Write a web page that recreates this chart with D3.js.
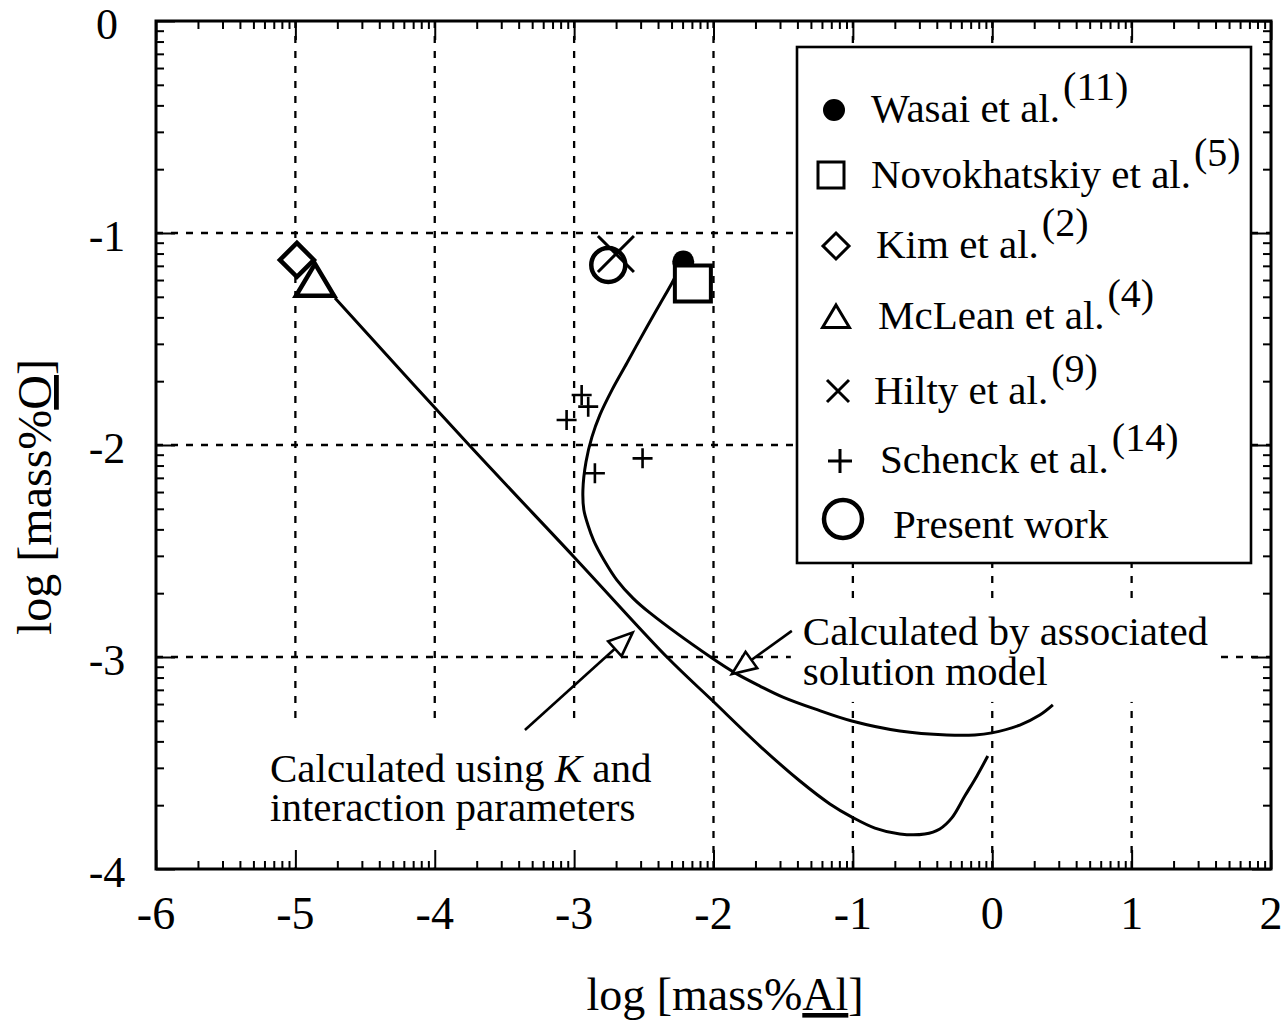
<!DOCTYPE html>
<html>
<head>
<meta charset="utf-8">
<script src="https://cdn.jsdelivr.net/npm/d3@7"></script>
<style>
  html, body { margin: 0; padding: 0; background: #fff; }
  svg { display: block; font-family: "Liberation Serif", "Times New Roman", Times, serif; }
</style>
</head>
<body>
<svg id="chart" width="1288" height="1022"></svg>
<script>
// ---- data: log[mass%Al] vs log[mass%O] ----
const wasai        = [[-2.217, -1.135]];
const novokhatskiy = [[-2.148, -1.238]];
const kim          = [[-4.989, -1.127]];
const mclean       = [[-4.859, -1.226]];
const hilty        = [[-2.700, -1.099]];
const schenck      = [[-2.946, -1.764], [-2.899, -1.819], [-3.054, -1.882], [-2.851, -2.133], [-2.509, -2.063]];
const presentWork  = [[-2.755, -1.151]];

// calculated using K and interaction parameters
const curveInteraction = [
  [-4.716, -1.307], [-3.747, -2.005], [-3.001, -2.528], [-2.327, -3.005],
  [-2.012, -3.203], [-1.667, -3.420], [-1.380, -3.585], [-1.165, -3.693],
  [-1.007, -3.755], [-0.842, -3.807], [-0.663, -3.835], [-0.484, -3.835],
  [-0.376, -3.811], [-0.290, -3.759], [-0.197, -3.656], [-0.110, -3.561],
  [-0.032, -3.467]
];
// calculated by associated solution model
const curveAssociated = [
  [-2.220, -1.137], [-2.298, -1.236], [-2.384, -1.335], [-2.478, -1.443],
  [-2.621, -1.613], [-2.729, -1.741], [-2.815, -1.858], [-2.872, -1.962],
  [-2.915, -2.080], [-2.937, -2.212], [-2.930, -2.307], [-2.901, -2.377],
  [-2.858, -2.453], [-2.786, -2.542], [-2.693, -2.637], [-2.578, -2.722],
  [-2.456, -2.792], [-2.011, -3.005],
  [-1.846, -3.075], [-1.667, -3.137], [-1.502, -3.189], [-1.273, -3.245],
  [-1.007, -3.302], [-0.663, -3.349], [-0.326, -3.368], [-0.125, -3.368],
  [-0.003, -3.358], [0.198, -3.321], [0.341, -3.274], [0.435, -3.226]
];

const xTicks = [-6, -5, -4, -3, -2, -1, 0, 1, 2];
const xTickLabels = ["-6", "-5", "-4", "-3", "-2", "-1", "0", "1", "2"];
const yTicks = [0, -1, -2, -3, -4];
const yTickLabels = ["0", "-1", "-2", "-3", "-4"];
const xGrid = [-5, -4, -3, -2, -1, 0, 1];
const yGrid = [-1, -2, -3];

const legendLabels = ["Wasai et al.", "Novokhatskiy et al.", "Kim et al.", "McLean et al.", "Hilty et al.", "Schenck et al.", "Present work"];
const legendRefs   = ["(11)", "(5)", "(2)", "(4)", "(9)", "(14)", ""];
const legendKinds  = ["dot", "square", "diamond", "triangle", "cross", "plus", "ring"];

const noteAssociated  = { at: [-1.359, -2.943], lines: ["Calculated by associated", "solution model"] };
const noteInteraction = { at: [-5.182, -3.590] };
const arrowAssociated  = { from: [-1.438, -2.877], to: [-1.868, -3.080] };
const arrowInteraction = { from: [-3.353, -3.344], to: [-2.580, -2.885] };

// ---- layout ----
const svg = d3.select("#chart");
const pL = 156, pR = 1271, pT = 21, pB = 869;
const x = d3.scaleLinear().domain([-6, 2]).range([pL, pR]);
const y = d3.scaleLinear().domain([0, -4]).range([pT, pB]);

const gGrid   = svg.append("g");
const gClear  = svg.append("g");
const gCurves = svg.append("g");
const gMarks  = svg.append("g");
const gFrame  = svg.append("g");
const gText   = svg.append("g");

// dashed grid
gGrid.selectAll("line.v").data(xGrid).join("line")
  .attr("x1", d => x(d)).attr("x2", d => x(d))
  .attr("y1", pT).attr("y2", pB)
  .attr("stroke", "#000").attr("stroke-width", 2.3).attr("stroke-dasharray", "7,8");
gGrid.selectAll("line.h").data(yGrid).join("line")
  .attr("y1", d => y(d)).attr("y2", d => y(d))
  .attr("x1", pL).attr("x2", pR)
  .attr("stroke", "#000").attr("stroke-width", 2.3).attr("stroke-dasharray", "7,8");

// curves
const line = d3.line().x(d => x(d[0])).y(d => y(d[1])).curve(d3.curveCatmullRom.alpha(0.5));
gCurves.append("path").attr("d", line(curveInteraction))
  .attr("fill", "none").attr("stroke", "#000").attr("stroke-width", 3).attr("stroke-linejoin", "round");
gCurves.append("path").attr("d", line(curveAssociated))
  .attr("fill", "none").attr("stroke", "#000").attr("stroke-width", 3).attr("stroke-linejoin", "round");

// symbol paths
function symbolPath(kind, s) {
  switch (kind) {
    case "square":   return `M${-s},${-s}H${s}V${s}H${-s}Z`;
    case "diamond":  return `M0,${-s}L${s},0L0,${s}L${-s},0Z`;
    case "triangle": return `M0,${-s * 1.0}L${s * 1.12},${s * 0.88}L${-s * 1.12},${s * 0.88}Z`;
    case "cross":    return `M${-s},${-s}L${s},${s}M${s},${-s}L${-s},${s}`;
    case "plus":     return `M${-s},0H${s}M0,${-s}V${s}`;
  }
}
function drawMark(g, kind, cx, cy, size, sw) {
  if (kind === "dot") {
    g.append("circle").attr("cx", cx).attr("cy", cy).attr("r", size).attr("fill", "#000");
  } else if (kind === "ring") {
    g.append("circle").attr("cx", cx).attr("cy", cy).attr("r", size)
      .attr("fill", "none").attr("stroke", "#000").attr("stroke-width", sw);
  } else {
    const filled = (kind === "square" || kind === "diamond" || kind === "triangle");
    g.append("path").attr("transform", `translate(${cx},${cy})`).attr("d", symbolPath(kind, size))
      .attr("fill", filled ? "#fff" : "none").attr("stroke", "#000").attr("stroke-width", sw)
      .attr("stroke-linejoin", "miter").attr("stroke-linecap", "butt");
  }
}

// data markers
wasai.forEach(d => drawMark(gMarks, "dot", x(d[0]), y(d[1]), 11));
novokhatskiy.forEach(d => drawMark(gMarks, "square", x(d[0]), y(d[1]), 18, 4));
kim.forEach(d => drawMark(gMarks, "diamond", x(d[0]), y(d[1]), 17, 4.5));
mclean.forEach(d => drawMark(gMarks, "triangle", x(d[0]), y(d[1]), 17, 4.5));
hilty.forEach(d => drawMark(gMarks, "cross", x(d[0]), y(d[1]), 18, 3));
presentWork.forEach(d => drawMark(gMarks, "ring", x(d[0]), y(d[1]), 17, 4.5));
schenck.forEach(d => drawMark(gMarks, "plus", x(d[0]), y(d[1]), 10, 2.6));

// frame and inward ticks on all four sides
const xMinor = [], yMinor = [];
for (let n = -6; n < 2; n++) for (let k = 2; k <= 9; k++) xMinor.push(n + Math.log10(k));
for (let n = -4; n < 0; n++) for (let k = 2; k <= 9; k++) yMinor.push(n + Math.log10(k));
const major = 19, minor = 8;
function addAxis(axis, tx, ty) {
  const g = gFrame.append("g").attr("transform", `translate(${tx},${ty})`).call(axis);
  g.select(".domain").remove();
  g.selectAll("text").remove();
  g.selectAll(".tick line").attr("stroke", "#000").attr("stroke-width", 2);
}
addAxis(d3.axisBottom(x).tickValues(xTicks).tickSize(-major), 0, pB);
addAxis(d3.axisBottom(x).tickValues(xMinor).tickSize(-minor), 0, pB);
addAxis(d3.axisTop(x).tickValues(xTicks).tickSize(-major), 0, pT);
addAxis(d3.axisTop(x).tickValues(xMinor).tickSize(-minor), 0, pT);
addAxis(d3.axisLeft(y).tickValues(yTicks).tickSize(-major), pL, 0);
addAxis(d3.axisLeft(y).tickValues(yMinor).tickSize(-minor), pL, 0);
addAxis(d3.axisRight(y).tickValues(yTicks).tickSize(-major), pR, 0);
addAxis(d3.axisRight(y).tickValues(yMinor).tickSize(-minor), pR, 0);
gFrame.append("rect").attr("x", pL).attr("y", pT)
  .attr("width", pR - pL).attr("height", pB - pT)
  .attr("fill", "none").attr("stroke", "#000").attr("stroke-width", 3);

// tick labels
gText.selectAll("text.xt").data(xTicks).join("text")
  .attr("x", d => x(d)).attr("y", 929).attr("text-anchor", "middle")
  .attr("font-size", 46).text((d, i) => xTickLabels[i]);
gText.selectAll("text.yt").data(yTicks).join("text")
  .attr("x", 107).attr("y", d => y(d) + 18).attr("text-anchor", "middle")
  .attr("font-size", 44).text((d, i) => yTickLabels[i]);

// axis titles
const xt = gText.append("text").attr("x", 725).attr("y", 1010).attr("text-anchor", "middle").attr("font-size", 46);
xt.append("tspan").text("log [mass%");
xt.append("tspan").style("text-decoration", "underline").text("Al");
xt.append("tspan").text("]");
const yt = gText.append("text").attr("transform", "translate(51,497) rotate(-90)").attr("text-anchor", "middle").attr("font-size", 48);
yt.append("tspan").text("log [mass%");
yt.append("tspan").style("text-decoration", "underline").text("O");
yt.append("tspan").text("]");

// annotations with white backing
function backing(node, padL, padT, padR, padB, toBottom) {
  const bb = node.getBBox();
  const y0 = bb.y - padT;
  const y1 = toBottom ? pB - 1.5 : bb.y + bb.height + padB;
  gClear.append("rect").attr("x", bb.x - padL).attr("y", y0)
    .attr("width", bb.width + padL + padR).attr("height", y1 - y0).attr("fill", "#fff");
}
const na = gText.append("g");
noteAssociated.lines.forEach((t, i) => {
  na.append("text").attr("x", x(noteAssociated.at[0])).attr("y", y(noteAssociated.at[1]) + i * 40)
    .attr("font-size", 41).text(t);
});
backing(na.node(), 12, 6, 8, 8, false);

const ni = gText.append("g");
const l1 = ni.append("text").attr("x", x(noteInteraction.at[0])).attr("y", y(noteInteraction.at[1])).attr("font-size", 41);
l1.append("tspan").text("Calculated using ");
l1.append("tspan").attr("font-style", "italic").text("K");
l1.append("tspan").text(" and");
ni.append("text").attr("x", x(noteInteraction.at[0])).attr("y", y(noteInteraction.at[1]) + 39)
  .attr("font-size", 41).text("interaction parameters");
backing(ni.node(), 10, 24, 8, 0, true);

// open-headed arrows
function arrow(a) {
  const x0 = x(a.from[0]), y0 = y(a.from[1]), x1 = x(a.to[0]), y1 = y(a.to[1]);
  const dx = x1 - x0, dy = y1 - y0, L = Math.hypot(dx, dy);
  const ux = dx / L, uy = dy / L, px = -uy, py = ux;
  const hl = 24, hw = 10;
  const bx = x1 - ux * hl, by = y1 - uy * hl;
  gText.append("line").attr("x1", x0).attr("y1", y0).attr("x2", bx).attr("y2", by)
    .attr("stroke", "#000").attr("stroke-width", 2.6);
  gText.append("path")
    .attr("d", `M${x1},${y1}L${bx + px * hw},${by + py * hw}L${bx - px * hw},${by - py * hw}Z`)
    .attr("fill", "#fff").attr("stroke", "#000").attr("stroke-width", 2.6).attr("stroke-linejoin", "miter");
}
arrow(arrowInteraction);
arrow(arrowAssociated);

// legend
gClear.append("rect").attr("x", 797).attr("y", 47).attr("width", 454).attr("height", 516)
  .attr("fill", "#fff").attr("stroke", "#000").attr("stroke-width", 2.6);
const legMarkX = [834, 831, 836, 836, 838, 840, 843];
const legMarkY = [110, 175, 246, 317, 391, 461, 519];
const legTextX = [871, 871, 876, 878, 874, 880, 893];
const legTextY = [122, 188, 258, 329, 404, 473, 538];
const legSize  = { dot: 11, square: 13, diamond: 13, triangle: 12, cross: 11, plus: 12, ring: 19 };
const legStroke = { dot: 0, square: 3, diamond: 3, triangle: 3, cross: 3, plus: 3, ring: 4.5 };
legendLabels.forEach((lab, i) => {
  const k = legendKinds[i];
  drawMark(gText, k, legMarkX[i], legMarkY[i], legSize[k], legStroke[k]);
  const t = gText.append("text").attr("x", legTextX[i]).attr("y", legTextY[i]).attr("font-size", 41);
  t.append("tspan").text(lab);
  if (legendRefs[i]) t.append("tspan").attr("dx", 3).attr("dy", -22).attr("font-size", 40).text(legendRefs[i]);
});
</script>
</body>
</html>
